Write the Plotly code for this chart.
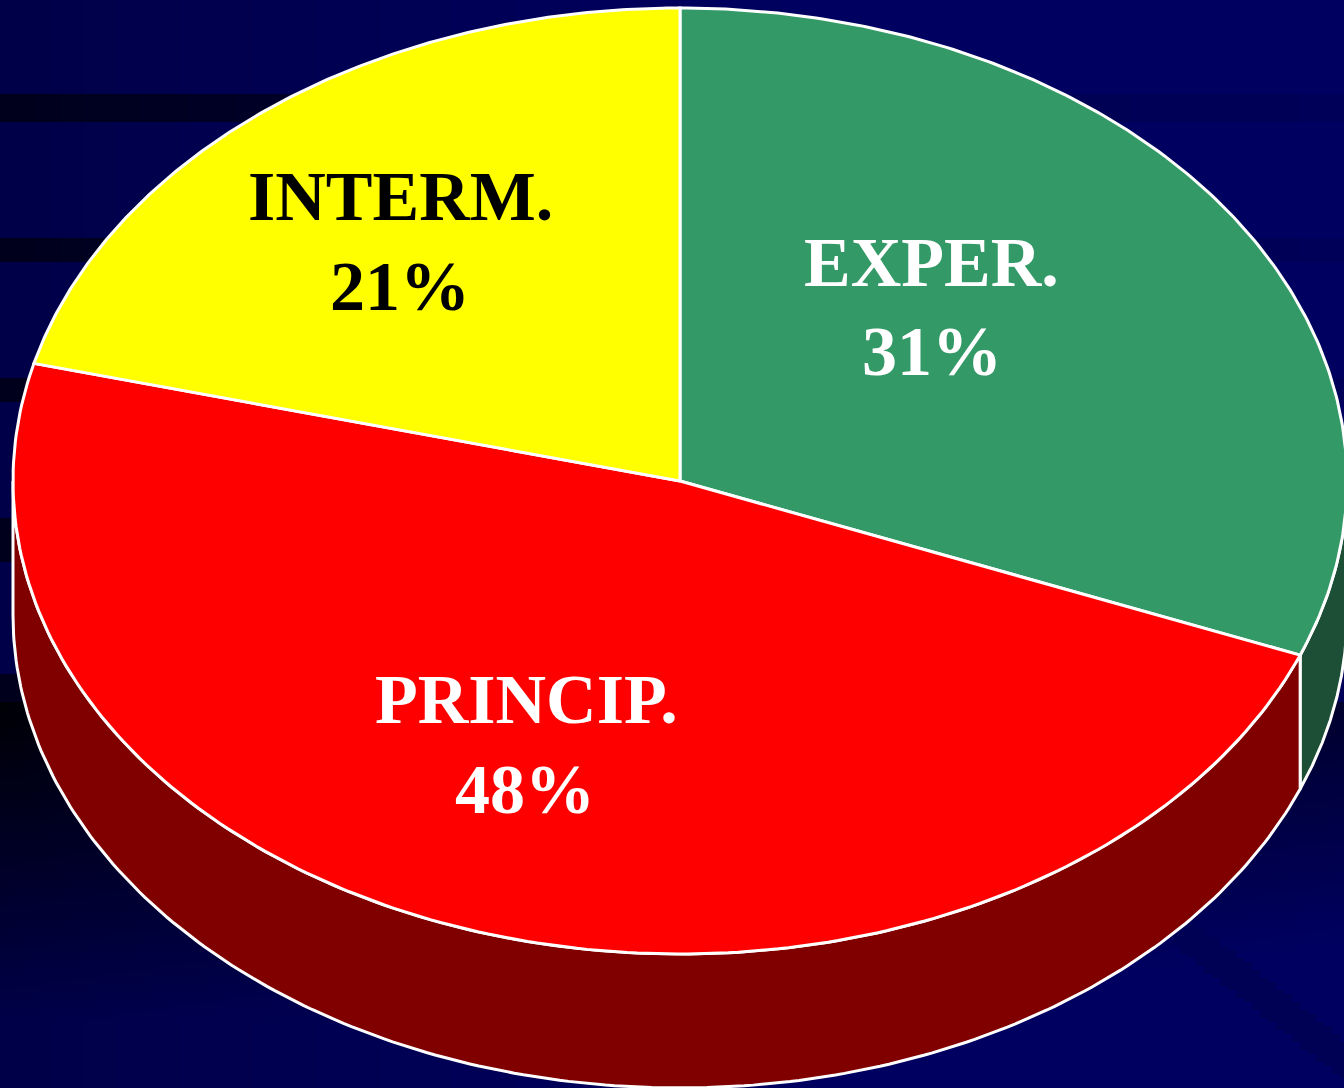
import numpy as np
import plotly.graph_objects as go

# ---- chart data -------------------------------------------------------
categories = ["EXPER.", "PRINCIP.", "INTERM."]
percent_values = [31, 48, 21]
percent_labels = ["31%", "48%", "21%"]

# ---- styles ------------------------------------------------------------
top_colors = ["#339966", "#ff0000", "#ffff00"]
wall_colors = ["#1c4f35", "#800000", "#808000"]
text_colors = ["#ffffff", "#ffffff", "#000000"]
label_xy = [(931, 262), (526, 699), (400, 196)]
percent_xy = [(932, 351), (525, 789), (400, 286)]

W, H = 1344, 1088
CX, CY, RX, RY, DEPTH = 680, 481, 667, 473, 134
FONT = "Liberation Serif"
FONT_SIZE = 70
EDGE = dict(color="#ffffff", width=3)


def ellipse(turn_a, turn_b, dy=0, n=200):
    """Points on the pie's rim between two fractions of a clockwise turn from 12 o'clock."""
    t = np.linspace(turn_a, turn_b, n) * 2 * np.pi
    return CX + RX * np.sin(t), CY - RY * np.cos(t) + dy


# ---- decorative background (navy with dark fading bands) --------------
gx = np.arange(0, W + 8, 8.0)
gy = np.arange(0, H + 4, 4.0)
XX, YY = np.meshgrid(gx, gy)
bg = 72 + 24 * np.minimum(XX / 800, 1)
band = np.interp(XX, [0, 300, 1000, 1344], [28, 40, 84, 88])
for y0, y1 in [(95, 122), (237, 262), (377, 403), (520, 562), (675, 702)]:
    bg = np.where((YY >= y0) & (YY < y1), band, bg)
low = np.clip(5 + (YY - 702) * 0.21 + XX * 0.03, 0, 96)
bg = np.where(YY >= 702, np.minimum(bg, low), bg)
diag = YY - (930 + (XX - 1180) * 130 / 164)
bg = np.where((np.abs(diag) < 20) & (XX > 1170), 84, bg)

fig = go.Figure()
fig.add_trace(go.Heatmap(
    x=gx, y=gy, z=bg, zmin=0, zmax=96, showscale=False, hoverinfo="skip",
    colorscale=[[0, "#000000"], [1, "#000060"]],
))

# ---- pie geometry derived from the values -----------------------------
bounds = np.concatenate([[0], np.cumsum(percent_values)]) / sum(percent_values)

# side walls: only the front half of the rim (turn 0.25 to 0.75) is visible
for i in range(len(percent_values)):
    a, b = max(bounds[i], 0.25), min(bounds[i + 1], 0.75)
    if a >= b:
        continue
    tx, ty = ellipse(a, b)
    bx, by = ellipse(b, a, DEPTH)
    fig.add_trace(go.Scatter(
        x=np.r_[tx, bx, tx[0]], y=np.r_[ty, by, ty[0]], mode="lines",
        fill="toself", fillcolor=wall_colors[i], line=EDGE, hoverinfo="skip",
    ))

# top faces
for i, name in enumerate(categories):
    ex, ey = ellipse(bounds[i], bounds[i + 1])
    fig.add_trace(go.Scatter(
        x=np.r_[CX, ex, CX], y=np.r_[CY, ey, CY], mode="lines", name=name,
        fill="toself", fillcolor=top_colors[i], line=EDGE, hoverinfo="skip",
    ))

# labels
for i, name in enumerate(categories):
    for txt, (tx, ty) in ((name, label_xy[i]), (percent_labels[i], percent_xy[i])):
        fig.add_annotation(
            x=tx, y=ty, text=f"<b>{txt}</b>", showarrow=False,
            xanchor="center", yanchor="middle",
            font=dict(family=FONT, size=FONT_SIZE, color=text_colors[i]),
        )

fig.update_layout(
    width=W, height=H, autosize=False, showlegend=False,
    margin=dict(l=0, r=0, t=0, b=0), paper_bgcolor="#000060", plot_bgcolor="#000060",
    xaxis=dict(range=[0, W], visible=False, fixedrange=True),
    yaxis=dict(range=[H, 0], visible=False, fixedrange=True),
)
fig.write_html(
    "out.html", config={"displayModeBar": False},
    post_script="document.body.style.margin='0';document.body.style.overflow='hidden';",
)
